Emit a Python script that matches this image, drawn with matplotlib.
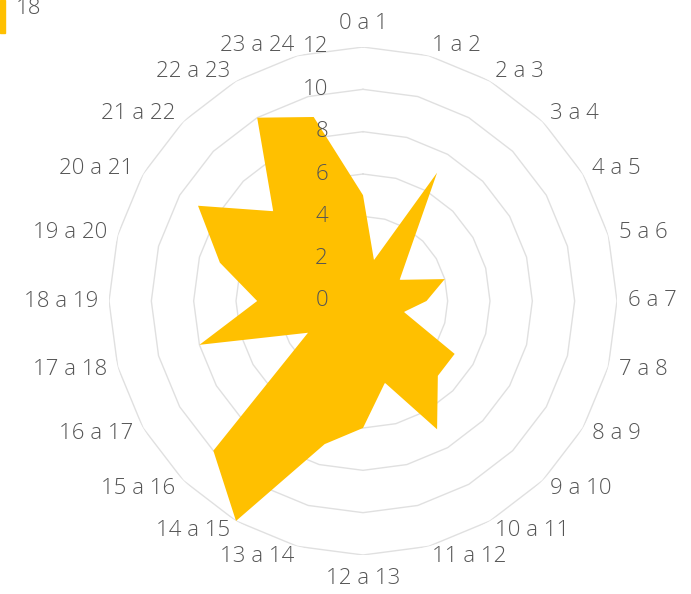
import numpy as np
import matplotlib
matplotlib.use("Agg")
import matplotlib.pyplot as plt
from matplotlib.patches import Rectangle

categories = ["0 a 1", "1 a 2", "2 a 3", "3 a 4", "4 a 5", "5 a 6", "6 a 7", "7 a 8",
              "8 a 9", "9 a 10", "10 a 11", "11 a 12", "12 a 13", "13 a 14", "14 a 15",
              "15 a 16", "16 a 17", "17 a 18", "18 a 19", "19 a 20", "20 a 21",
              "21 a 22", "22 a 23", "23 a 24"]
values = [5, 2, 7, 3, 2, 4, 3, 2, 5, 5, 7, 4, 6, 7, 12, 10, 3, 8, 5, 7, 9, 6, 10, 9]
series_name = "18"
rings = [2, 4, 6, 8, 10, 12]
tick_labels = ["0", "2", "4", "6", "8", "10", "12"]
rmax = 12

FONT = ["Open Sans", "DejaVu Sans"]
TXT = "#555555"
FILL = "#FFC000"
GRID = "#e0e0e0"
FS = 16
FW = "light"

W, H = 691, 594
fig = plt.figure(figsize=(W / 100, H / 100), dpi=100)
cx, cy, R = 363, 301, 254
ax = fig.add_axes([(cx - R) / W, (H - cy - R) / H, 2 * R / W, 2 * R / H], projection="polar")
ax.set_theta_zero_location("N")
ax.set_theta_direction(-1)
ax.set_ylim(0, rmax)
ax.set_axis_off()

n = len(categories)
theta = np.arange(n) * 2 * np.pi / n
theta_c = np.append(theta, theta[0])

for r in rings:
    ax.plot(theta_c, [r] * (n + 1), color=GRID, lw=1.0, zorder=1)

vals_c = np.append(values, values[0])
ax.fill(theta_c, vals_c, color=FILL, lw=0, zorder=2)

# radial tick labels
for i, lab in enumerate(tick_labels):
    ax.annotate(lab, xy=(0, i * 2), xytext=(-35, 0), textcoords="offset pixels",
                ha="right", va="center", fontsize=FS, color=TXT, family=FONT,
                fontweight=FW, zorder=3, annotation_clip=False)

# category labels
for t, lab in zip(theta, categories):
    s, c = np.sin(t), np.cos(t)
    if abs(s) < 1e-6:
        ha = "center"
        va = "bottom" if c > 0 else "top"
        off = 13
    else:
        ha = "left" if s > 0 else "right"
        va = "center"
        off = 11
    ax.annotate(lab, xy=(t, rmax), xytext=(off * s, off * c), textcoords="offset pixels",
                ha=ha, va=va, fontsize=FS, color=TXT, family=FONT, fontweight=FW,
                annotation_clip=False)

# legend
fig.patches.append(Rectangle((0, (H - 33) / H), 5 / W, 33 / H, transform=fig.transFigure,
                             color=FILL, figure=fig))
fig.text(16 / W, (H - 9) / H, series_name, ha="left", va="center", fontsize=FS,
         color=TXT, family=FONT, fontweight=FW)

fig.savefig("out.png", dpi=100)
